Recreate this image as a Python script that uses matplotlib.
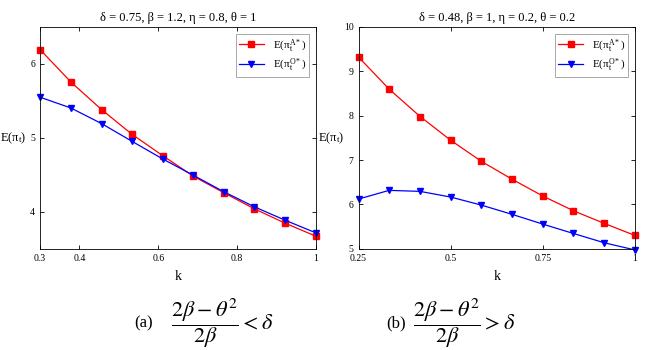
import numpy as np
import matplotlib
matplotlib.use('Agg')
import matplotlib.pyplot as plt

plt.rcParams['font.family'] = ['Liberation Serif', 'DejaVu Serif']
plt.rcParams['mathtext.fontset'] = 'stix'

# panel (a)
k_a = [0.3, 0.378, 0.456, 0.533, 0.611, 0.689, 0.767, 0.844, 0.922, 1.0]
pa_a = [6.194, 5.757, 5.383, 5.050, 4.761, 4.482, 4.257, 4.041, 3.847, 3.671]
po_a = [5.550, 5.405, 5.194, 4.955, 4.716, 4.495, 4.270, 4.068, 3.887, 3.716]
xt_a = [0.3, 0.4, 0.6, 0.8, 1.0]
xtl_a = ['0.3', '0.4', '0.6', '0.8', '1']
yt_a = [4, 5, 6]

# panel (b)
k_b = [0.25, 0.333, 0.417, 0.5, 0.583, 0.667, 0.75, 0.833, 0.917, 1.0]
pa_b = [9.322, 8.599, 7.982, 7.447, 6.973, 6.566, 6.190, 5.858, 5.572, 5.301]
po_b = [6.122, 6.318, 6.295, 6.167, 5.986, 5.776, 5.557, 5.346, 5.136, 4.975]
xt_b = [0.25, 0.5, 0.75, 1.0]
xtl_b = ['0.25', '0.5', '0.75', '1']
yt_b = [5, 6, 7, 8, 9, 10]

fig = plt.figure(figsize=(6.46, 3.5), dpi=100)

def panel(rect, k, pa, po, xt, xtl, yt, xlim, ylim, title):
    ax = fig.add_axes(rect)
    ax.plot(k, pa, color='red', marker='s', ms=4.5, lw=0.9, clip_on=False,
            label=r'E($\mathregular{\pi_t^{A*}}$)')
    ax.plot(k, po, color='blue', marker='v', ms=5, lw=0.9, clip_on=False,
            label=r'E($\mathregular{\pi_t^{O*}}$)')
    ax.set_xlim(xlim)
    ax.set_ylim(ylim)
    ax.set_xticks(xt)
    ax.set_xticklabels(xtl)
    ax.set_yticks(yt)
    ax.tick_params(direction='in', top=True, right=True, labelsize=7, length=3, width=0.6)
    for s in ax.spines.values():
        s.set_linewidth(0.6)
    ax.set_title(title, fontsize=9, pad=4)
    ax.set_xlabel('k', fontsize=10, labelpad=5)
    ax.set_ylabel(r'E($\mathregular{\pi_t}$)', fontsize=9, rotation=0, va='center', ha='right')
    ax.yaxis.set_label_coords(-0.05, 0.5)
    leg = ax.legend(loc='upper right', fontsize=8, frameon=True, fancybox=False,
                    handlelength=2.2, borderpad=0.3, labelspacing=0.3,
                    borderaxespad=0.6)
    leg.get_frame().set_edgecolor('gray')
    leg.get_frame().set_linewidth(0.6)
    return ax

panel([0.062, 0.289, 0.427, 0.634], k_a, pa_a, po_a, xt_a, xtl_a, yt_a,
      (0.3, 1.0), (3.5, 6.5), r'δ = 0.75, β = 1.2, η = 0.8, θ = 1')
panel([0.555, 0.289, 0.428, 0.634], k_b, pa_b, po_b, xt_b, xtl_b, yt_b,
      (0.25, 1.0), (5, 10), r'δ = 0.48, β = 1, η = 0.2, θ = 0.2')

fig.text(0.208, 0.075, '(a)', fontsize=12, ha='left', va='center')
fig.text(0.265, 0.075, r'$\dfrac{2\beta-\theta^2}{2\beta}<\delta$', fontsize=16, ha='left', va='center')
fig.text(0.598, 0.075, '(b)', fontsize=12, ha='left', va='center')
fig.text(0.640, 0.075, r'$\dfrac{2\beta-\theta^2}{2\beta}>\delta$', fontsize=16, ha='left', va='center')

fig.savefig('out.png', dpi=100)
